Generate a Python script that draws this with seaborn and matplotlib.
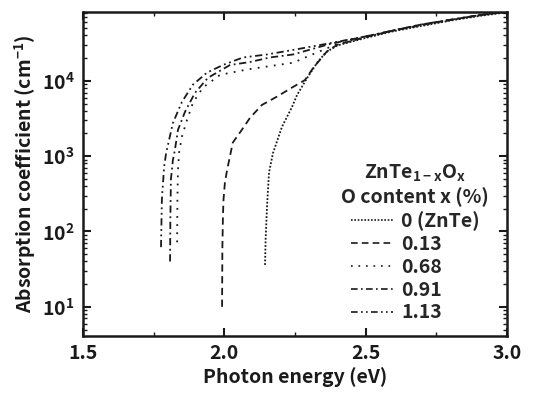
import matplotlib
matplotlib.use("Agg")
import matplotlib.pyplot as plt
import seaborn as sns
import pandas as pd
from matplotlib.ticker import LogLocator, FixedLocator, NullFormatter

sns.set_theme(style="ticks")
FONT = "Noto Sans CJK JP"
plt.rcParams["font.family"] = [FONT, "DejaVu Sans"]
plt.rcParams["font.weight"] = "bold"
plt.rcParams["axes.labelweight"] = "bold"
plt.rcParams["mathtext.fontset"] = "custom"
plt.rcParams["mathtext.rm"] = FONT + ":bold"
plt.rcParams["mathtext.it"] = FONT + ":bold"
plt.rcParams["mathtext.bf"] = FONT + ":bold"

# ---- data ----
labels = ["0 (ZnTe)", "0.13", "0.68", "0.91", "1.13"]

e_0 = [2.144, 2.146, 2.151, 2.158, 2.172, 2.204, 2.239, 2.257, 2.29, 2.328, 2.36, 2.40, 2.5, 2.6, 2.7, 2.8, 2.9, 3.0]
a_0 = [36, 78, 214, 603, 1096, 2455, 4467, 6457, 10470, 17380, 23990, 29510, 37150, 45710, 53700, 63100, 72440, 81280]

e_013 = [1.992, 1.993, 1.995, 1.997, 2.002, 2.010, 2.020, 2.030, 2.062, 2.091, 2.133, 2.186, 2.239, 2.285, 2.314, 2.363, 2.40, 2.5, 2.6, 2.7, 2.8, 2.9, 3.0]
a_013 = [10, 58, 155, 263, 447, 661, 1000, 1514, 2239, 3236, 4786, 6166, 8128, 10230, 14790, 24550, 30200, 38020, 46770, 54950, 64570, 74130, 83180]

e_068 = [1.833, 1.834, 1.836, 1.840, 1.850, 1.868, 1.889, 1.924, 1.985, 2.08, 2.151, 2.243, 2.33, 2.40, 2.5, 2.6, 2.7, 2.8, 2.9, 3.0]
a_068 = [72, 263, 661, 1122, 1820, 3020, 5129, 8128, 12020, 14130, 15490, 17380, 23990, 30900, 38020, 46770, 56230, 64570, 74130, 83180]

e_091 = [1.808, 1.809, 1.811, 1.818, 1.825, 1.836, 1.861, 1.896, 1.942, 2.020, 2.091, 2.161, 2.243, 2.374, 2.5, 2.6, 2.7, 2.8, 2.9, 3.0]
a_091 = [40, 141, 490, 891, 1202, 2239, 3890, 6918, 10960, 16220, 17780, 20420, 22390, 30900, 38900, 46770, 56230, 64570, 74130, 83180]

e_113 = [1.776, 1.779, 1.787, 1.794, 1.818, 1.850, 1.889, 1.939, 1.995, 2.066, 2.151, 2.243, 2.374, 2.5, 2.6, 2.7, 2.8, 2.9, 3.0]
a_113 = [62, 263, 724, 1096, 2754, 5248, 8913, 12880, 16220, 20420, 22390, 25700, 31620, 38900, 46770, 56230, 64570, 74130, 83180]

x_ticks = [1.5, 2.0, 2.5, 3.0]
x_ticklabels = ["1.5", "2.0", "2.5", "3.0"]

frames = []
for lab, e, a in zip(labels, [e_0, e_013, e_068, e_091, e_113], [a_0, a_013, a_068, a_091, a_113]):
    frames.append(pd.DataFrame({"E": e, "alpha": a, "O": lab}))
df = pd.concat(frames, ignore_index=True)

dashes = {
    "0 (ZnTe)": (1, 1),
    "0.13": (4, 2.5),
    "0.68": (1, 3.5),
    "0.91": (4, 2, 1, 2),
    "1.13": (4, 2, 1, 2, 1, 2),
}
palette = {lab: "#1a1a1a" for lab in labels}

fig = plt.figure(figsize=(5.44, 3.96), dpi=100)
ax = fig.add_axes([83 / 544, 1 - 336 / 396, (507 - 83) / 544, (336 - 12) / 396])

sns.lineplot(data=df, x="E", y="alpha", hue="O", style="O", hue_order=labels, style_order=labels,
             palette=palette, dashes=dashes, sort=False, estimator=None, linewidth=1.3, ax=ax)

ax.set_yscale("log")
ax.set_xlim(1.5, 3.0)
ax.set_ylim(4.1, 8.2e4)
ax.set_xticks(x_ticks)
ax.set_xticklabels(x_ticklabels)
ax.xaxis.set_minor_locator(FixedLocator([1.75, 2.25, 2.75]))
ax.yaxis.set_major_locator(FixedLocator([1e1, 1e2, 1e3, 1e4]))
ax.yaxis.set_minor_locator(LogLocator(base=10, subs=range(2, 10), numticks=20))
ax.yaxis.set_minor_formatter(NullFormatter())
ax.set_yticklabels(["10$^1$", "10$^2$", "10$^3$", "10$^4$"])

FS = 14
ax.tick_params(which="both", direction="in", top=True, right=True, colors="#1a1a1a",
               labelsize=FS, pad=6)
ax.tick_params(which="major", length=6, width=1.5)
ax.tick_params(which="minor", length=3, width=1.0)
for s in ax.spines.values():
    s.set_linewidth(1.8)
    s.set_color("#1a1a1a")

ax.set_xlabel("Photon energy (eV)", fontsize=FS, fontweight="bold", color="#1a1a1a", labelpad=3)
ax.set_ylabel("Absorption coefficient (cm$^{-1}$)", fontsize=FS, fontweight="bold",
              color="#1a1a1a", labelpad=3)

handles, labs = ax.get_legend_handles_labels()
leg = ax.legend(handles, labs, title="ZnTe$_{1-x}$O$_x$\nO content x (%)", loc="lower right",
                bbox_to_anchor=(0.99, 0.0), frameon=False, fontsize=FS, title_fontsize=FS,
                handlelength=2.2, handletextpad=0.4, labelspacing=0.2, borderaxespad=0.3)
leg.get_title().set_multialignment("center")
for h in leg.get_lines():
    h.set_linewidth(1.2)

fig.savefig("out.png", dpi=100)
